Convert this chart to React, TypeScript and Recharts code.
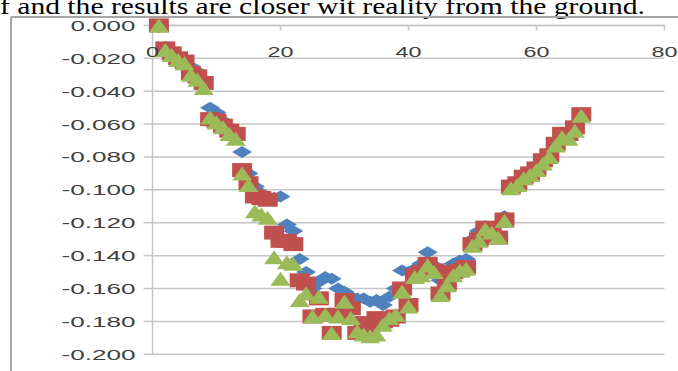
import React from "react";
import {
  ScatterChart,
  Scatter,
  XAxis,
  YAxis,
  CartesianGrid,
} from "recharts";

// distance along the section
const xs = [
  1, 2, 3, 4, 5, 6, 7, 8, 9, 10, 11, 12, 13, 14, 15, 16, 17, 18, 19, 20, 21, 22,
  23, 24, 25, 26, 27, 28, 29, 30, 31, 32, 33, 34, 35, 36, 37, 38, 39, 40, 41, 42,
  43, 44, 45, 46, 47, 48, 49, 50, 51, 52, 53, 54, 55, 56, 57, 58, 59, 60, 61, 62,
  63, 64, 65, 66, 67,
];

const blueY = [
  -0.001, -0.013, -0.016, -0.018, -0.021, -0.025, -0.028, -0.033, -0.05, -0.053,
  -0.058, -0.062, -0.065, -0.077, -0.09, -0.098, -0.102, -0.104, -0.105, -0.104,
  -0.121, -0.125, -0.142, -0.15, -0.16, -0.156, -0.153, -0.154, -0.16, -0.162,
  -0.165, -0.166, -0.166, -0.168, -0.167, -0.17, -0.165, -0.16, -0.149, -0.15,
  -0.148, -0.145, -0.138, -0.146, -0.155, -0.15, -0.145, -0.143, -0.142, -0.13,
  -0.125, -0.122, -0.123, -0.127, -0.116, -0.097, -0.095, -0.091, -0.089, -0.086,
  -0.081, -0.077, -0.074, -0.067, -0.066, -0.063, -0.056,
];

const redY = [
  0.0, -0.014, -0.017, -0.02, -0.022, -0.029, -0.031, -0.035, -0.057, -0.058,
  -0.061, -0.064, -0.066, -0.088, -0.096, -0.104, -0.105, -0.106, -0.126, -0.131,
  -0.131, -0.133, -0.155, -0.157, -0.177, -0.166, -0.176, -0.187, -0.176, -0.167,
  -0.172, -0.187, -0.181, -0.183, -0.178, -0.18, -0.179, -0.177, -0.16, -0.17,
  -0.152, -0.15, -0.145, -0.149, -0.163, -0.157, -0.15, -0.149, -0.147, -0.133,
  -0.13, -0.123, -0.125, -0.129, -0.118, -0.098, -0.096, -0.092, -0.09, -0.087,
  -0.082, -0.079, -0.072, -0.066, -0.066, -0.062, -0.054,
];

const greenY = [
  0.0, -0.015, -0.018, -0.021, -0.023, -0.03, -0.033, -0.038, -0.056, -0.059,
  -0.062, -0.066, -0.069, -0.09, -0.097, -0.113, -0.115, -0.117, -0.141, -0.154,
  -0.144, -0.145, -0.167, -0.163, -0.177, -0.165, -0.176, -0.187, -0.177, -0.168,
  -0.178, -0.186, -0.188, -0.189, -0.188, -0.182, -0.178, -0.176, -0.162, -0.171,
  -0.153, -0.152, -0.146, -0.15, -0.164, -0.158, -0.152, -0.149, -0.148, -0.134,
  -0.131, -0.124, -0.126, -0.129, -0.119, -0.099, -0.097, -0.093, -0.091, -0.088,
  -0.084, -0.08, -0.073, -0.068, -0.069, -0.064, -0.055,
];

const xTicks = [0, 20, 40, 60, 80];
const yTicks = [0, -0.02, -0.04, -0.06, -0.08, -0.1, -0.12, -0.14, -0.16, -0.18, -0.2];
const yTickLabels = [
  "0.000", "-0.020", "-0.040", "-0.060", "-0.080", "-0.100",
  "-0.120", "-0.140", "-0.160", "-0.180", "-0.200",
];

const caption = "f and the results are closer wit reality from the ground.";

const BLUE = "#4F81BD";
const RED = "#C0504D";
const GREEN = "#9BBB59";
const LABEL = "#404040";
const GRID = "#C6C6C6";

const blueData = xs.map((x, i) => ({ x, y: blueY[i] }));
const redData = xs.map((x, i) => ({ x, y: redY[i] }));
const greenData = xs.map((x, i) => ({ x, y: greenY[i] }));

const Diamond = ({ cx, cy }: any) => (
  <polygon
    points={`${cx - 10},${cy} ${cx},${cy - 6} ${cx + 10},${cy} ${cx},${cy + 6}`}
    fill={BLUE}
  />
);

const Square = ({ cx, cy }: any) => (
  <rect x={cx - 10} y={cy - 7} width={20} height={14} fill={RED} />
);

const Triangle = ({ cx, cy }: any) => (
  <polygon
    points={`${cx - 10},${cy + 7} ${cx},${cy - 7} ${cx + 10},${cy + 7}`}
    fill={GREEN}
  />
);

const YTick = ({ x, y, payload, index }: any) => {
  const label = yTickLabels[index] ?? String(payload.value);
  const len = label.startsWith("-") ? 74 : 65;
  return (
    <text
      x={x}
      y={y}
      dy={5.5}
      textAnchor="end"
      fontFamily="Liberation Sans, Arial, sans-serif"
      fontSize={15}
      fill={LABEL}
      textLength={len}
      lengthAdjust="spacingAndGlyphs"
    >
      {label}
    </text>
  );
};

const XTick = ({ x, y, payload }: any) => {
  const label = String(payload.value);
  return (
    <text
      x={x}
      y={y}
      dy={25}
      textAnchor="middle"
      fontFamily="Liberation Sans, Arial, sans-serif"
      fontSize={15}
      fill={LABEL}
      textLength={label.length * 13}
      lengthAdjust="spacingAndGlyphs"
    >
      {label}
    </text>
  );
};

export default function App() {
  return (
    <div
      style={{
        position: "absolute",
        left: 0,
        top: 0,
        width: 678,
        height: 371,
        background: "#fff",
        overflow: "hidden",
      }}
    >
      <svg
        width={678}
        height={371}
        style={{ position: "absolute", left: 0, top: 0 }}
      >
        <text
          x={0}
          y={13.5}
          fontFamily="Liberation Serif, Times New Roman, serif"
          fontSize={23}
          fill="#000"
          textLength={645}
          lengthAdjust="spacingAndGlyphs"
        >
          {caption}
        </text>
        <line x1={11} y1={17} x2={678} y2={17} stroke="#A6A6A6" strokeWidth={2} />
        <line x1={11} y1={17} x2={11} y2={371} stroke="#A6A6A6" strokeWidth={2} />
      </svg>
      <div style={{ position: "absolute", left: 0, top: 0 }}>
        <ScatterChart
          width={678}
          height={371}
          margin={{ top: 25.4, right: 13.5, bottom: 16.7, left: 92.5 }}
        >
          <CartesianGrid
            vertical={false}
            stroke={GRID}
            strokeWidth={1.5}
          />
          <XAxis
            type="number"
            dataKey="x"
            orientation="top"
            mirror
            domain={[0, 80]}
            ticks={xTicks}
            height={10}
            stroke={GRID}
            strokeWidth={1.5}
            tickSize={5}
            tickLine={{ stroke: GRID }}
            tick={<XTick />}
            interval={0}
          />
          <YAxis
            type="number"
            dataKey="y"
            domain={[-0.2, 0]}
            ticks={yTicks}
            width={60}
            stroke={GRID}
            strokeWidth={1.5}
            tickSize={9}
            tickMargin={8}
            tickLine={{ stroke: GRID }}
            tick={<YTick />}
            interval={0}
          />
          <Scatter
            data={blueData}
            shape={<Diamond />}
            isAnimationActive={false}
          />
          <Scatter
            data={redData}
            shape={<Square />}
            isAnimationActive={false}
          />
          <Scatter
            data={greenData}
            shape={<Triangle />}
            isAnimationActive={false}
          />
        </ScatterChart>
      </div>
    </div>
  );
}
